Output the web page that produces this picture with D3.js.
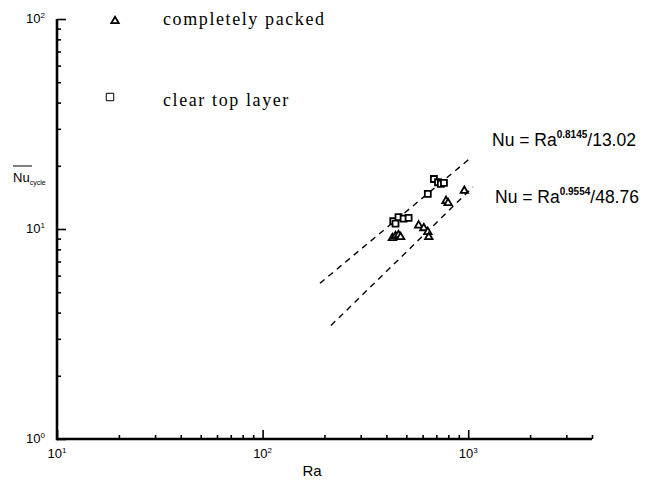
<!DOCTYPE html>
<html>
<head>
<meta charset="utf-8">
<script src="https://cdn.jsdelivr.net/npm/d3@7"></script>
<style>
  body { margin: 0; background: #fff; }
  svg { display: block; }
</style>
</head>
<body>
<svg></svg>
<script>
// data
const packedRa = [428, 443, 458, 469, 574, 608, 636, 643, 780, 798, 957];
const packedNu = [9.06, 9.26, 9.36, 9.16, 10.4, 10.1, 9.68, 9.16, 13.6, 13.3, 15.2];

const clearRa = [681, 713, 736, 762, 636, 432, 443, 458, 485, 513];
const clearNu = [17.3, 16.7, 16.4, 16.6, 14.7, 10.9, 10.6, 11.4, 11.2, 11.3];

// fits: Nu = Ra^exp / div
const fitExp   = [0.8145, 0.9554];
const fitDiv   = [13.02, 48.76];
const fitFrom  = [190, 215];
const fitTo    = [1035, 1055];
const fitLabel = [['0.8145', '/13.02'], ['0.9554', '/48.76']];

const xMinorTicks = [20, 30, 40, 50, 60, 70, 80, 90, 200, 300, 400, 500, 600, 700, 800, 900, 2000, 3000, 4000];
const xMajorTicks = [10, 100, 1000];
const yMinorTicks = [2, 3, 4, 5, 6, 7, 8, 9, 20, 30, 40, 50, 60, 70, 80, 90];
const yMajorTicks = [1, 10, 100];

let width  = 660,
    height = 481;

let xScale = d3.scaleLog()
               .domain([10, 4000])
               .range([57, 592]),
    yScale = d3.scaleLog()
               .domain([1, 100])
               .range([439, 19]);

let svg = d3.select('svg')
            .attr('width', width)
            .attr('height', height)
            .style('font-family', '"Liberation Sans", Arial, sans-serif');

// axes (ticks point inward)
function styleAxis(g) {
  g.select('.domain').remove();
  g.selectAll('.tick line').attr('stroke', '#000').attr('stroke-width', 1.6);
  g.selectAll('.tick text').remove();
}

svg.append('g')
   .attr('transform', `translate(0, ${yScale(1)})`)
   .call(d3.axisBottom(xScale).tickValues(xMinorTicks).tickSize(-4).tickSizeOuter(0))
   .call(styleAxis);
svg.append('g')
   .attr('transform', `translate(0, ${yScale(1)})`)
   .call(d3.axisBottom(xScale).tickValues(xMajorTicks).tickSize(-9).tickSizeOuter(0))
   .call(styleAxis);
svg.append('g')
   .attr('transform', `translate(${xScale(10)}, 0)`)
   .call(d3.axisRight(yScale).tickValues(yMinorTicks).tickSize(4).tickSizeOuter(0))
   .call(styleAxis);
svg.append('g')
   .attr('transform', `translate(${xScale(10)}, 0)`)
   .call(d3.axisRight(yScale).tickValues(yMajorTicks).tickSize(9).tickSizeOuter(0))
   .call(styleAxis);

// axis lines
svg.append('line')
   .attr('x1', xScale(10)).attr('x2', xScale(4000))
   .attr('y1', yScale(1)).attr('y2', yScale(1))
   .attr('stroke', '#000').attr('stroke-width', 2.6);
svg.append('line')
   .attr('x1', xScale(10)).attr('x2', xScale(10))
   .attr('y1', yScale(1) + 1.3).attr('y2', yScale(100))
   .attr('stroke', '#000').attr('stroke-width', 2.6);

// tick labels 10^n
function powLabel(sel, exp) {
  sel.append('tspan').text('10');
  sel.append('tspan').attr('font-size', 8).attr('dy', -5).text(exp);
}
xMajorTicks.forEach(v => {
  svg.append('text')
     .attr('x', xScale(v)).attr('y', 458)
     .attr('text-anchor', 'middle')
     .attr('font-size', 13)
     .call(powLabel, Math.round(Math.log10(v)));
});
yMajorTicks.forEach(v => {
  svg.append('text')
     .attr('x', 45).attr('y', yScale(v) + 4)
     .attr('text-anchor', 'end')
     .attr('font-size', 13)
     .call(powLabel, Math.round(Math.log10(v)));
});

// axis titles
svg.append('text')
   .attr('x', 312).attr('y', 476)
   .attr('text-anchor', 'middle')
   .attr('font-size', 15)
   .text('Ra');

let yTitle = svg.append('text')
   .attr('x', 13).attr('y', 182)
   .attr('font-size', 13);
yTitle.append('tspan').text('Nu');
yTitle.append('tspan').attr('font-size', 7).attr('dy', 3).text('cycle');
svg.append('line')
   .attr('x1', 13).attr('x2', 32)
   .attr('y1', 166).attr('y2', 166)
   .attr('stroke', '#000').attr('stroke-width', 1);

// fit lines
fitExp.forEach((e, i) => {
  let nu = ra => Math.pow(ra, e) / fitDiv[i];
  svg.append('line')
     .attr('x1', xScale(fitFrom[i])).attr('y1', yScale(nu(fitFrom[i])))
     .attr('x2', xScale(fitTo[i])).attr('y2', yScale(nu(fitTo[i])))
     .attr('stroke', '#000')
     .attr('stroke-width', 1.4)
     .attr('stroke-dasharray', '6,5');
});

// equation labels
const eqX = [492, 495],
      eqY = [146, 203];
fitLabel.forEach((parts, i) => {
  let t = svg.append('text')
     .attr('x', eqX[i]).attr('y', eqY[i])
     .attr('font-size', 17.5);
  t.append('tspan').text('Nu = Ra');
  t.append('tspan').attr('font-size', 10).attr('font-weight', 'bold').attr('dy', -8).text(parts[0]);
  t.append('tspan').attr('dy', 8).text(parts[1]);
});

// markers
let triangle = d3.symbol().type(d3.symbolTriangle).size(24),
    square   = d3.symbol().type(d3.symbolSquare).size(36);

svg.selectAll('path.clear')
   .data(clearRa)
   .enter()
   .append('path')
     .attr('class', 'clear')
     .attr('d', square)
     .attr('transform', (d, i) => `translate(${xScale(d)}, ${yScale(clearNu[i])})`)
     .attr('fill', '#fff')
     .attr('stroke', '#000')
     .attr('stroke-width', 1.8);

svg.selectAll('path.packed')
   .data(packedRa)
   .enter()
   .append('path')
     .attr('class', 'packed')
     .attr('d', triangle)
     .attr('transform', (d, i) => `translate(${xScale(d)}, ${yScale(packedNu[i])})`)
     .attr('fill', '#fff')
     .attr('stroke', '#000')
     .attr('stroke-width', 1.8);

// legend
svg.append('path')
   .attr('d', triangle)
   .attr('transform', 'translate(115, 21)')
   .attr('fill', '#fff').attr('stroke', '#000').attr('stroke-width', 1.8);
svg.append('path')
   .attr('d', d3.symbol().type(d3.symbolSquare).size(55))
   .attr('transform', 'translate(110, 97)')
   .attr('fill', '#fff').attr('stroke', '#000').attr('stroke-width', 1);

const legendText = ['completely packed', 'clear top layer'],
      legendY    = [25, 106];
legendText.forEach((t, i) => {
  svg.append('text')
     .attr('x', 163).attr('y', legendY[i])
     .attr('font-family', '"Liberation Serif", "Times New Roman", serif')
     .attr('font-size', 18)
     .attr('letter-spacing', 1.6)
     .text(t);
});
</script>
</body>
</html>
